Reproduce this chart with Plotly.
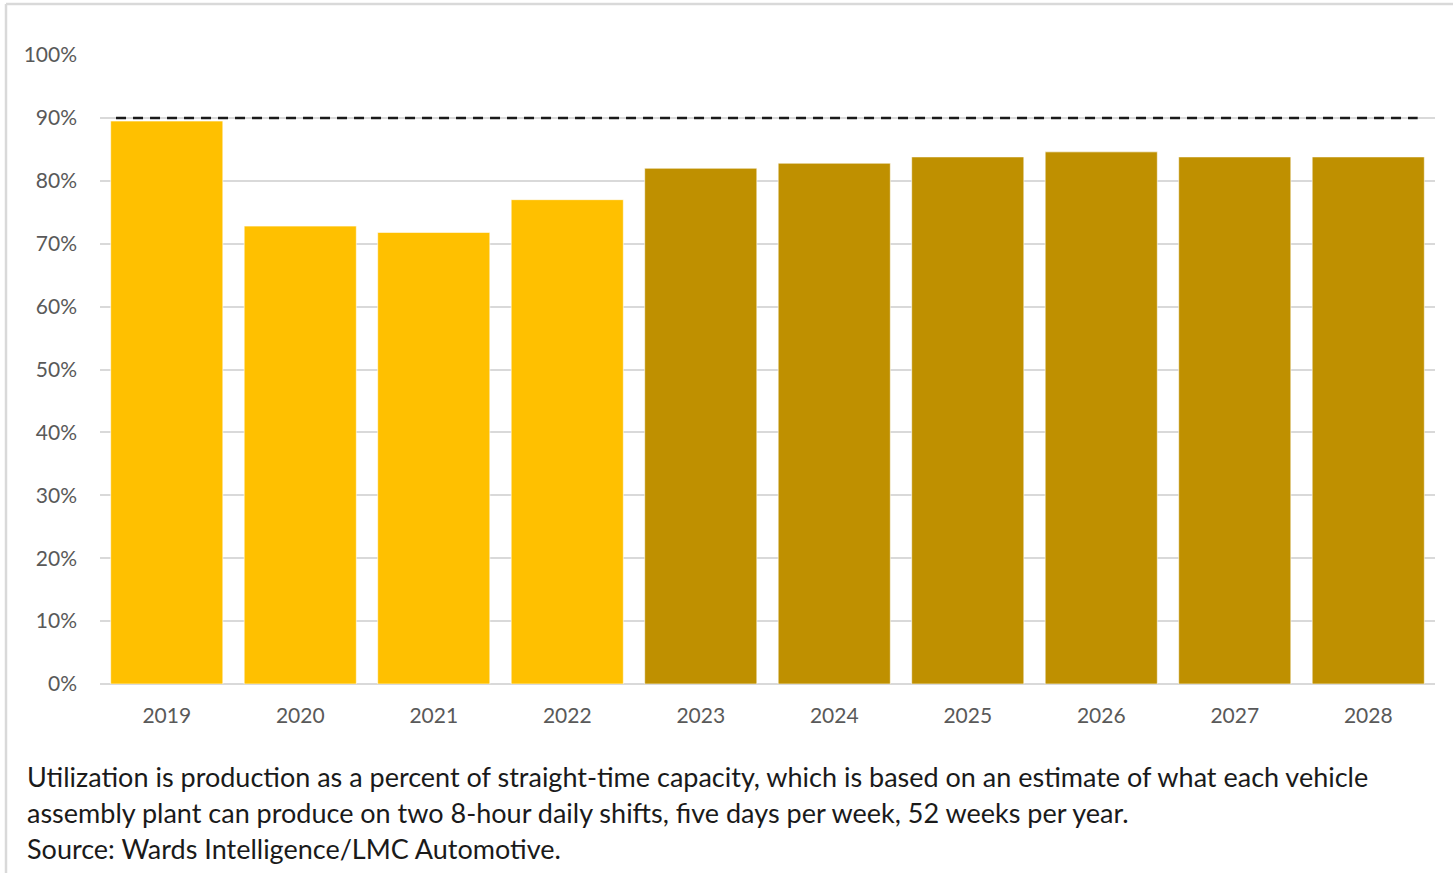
import plotly.graph_objects as go

# Vehicle assembly plant capacity utilization, actual and forecast
years = ["2019", "2020", "2021", "2022", "2023", "2024", "2025", "2026", "2027", "2028"]
utilization = [89.5, 72.8, 71.8, 77.0, 82.0, 82.8, 83.8, 84.6, 83.8, 83.8]
is_forecast = [False, False, False, False, True, True, True, True, True, True]
threshold = 90
y_ticks = [0, 10, 20, 30, 40, 50, 60, 70, 80, 90, 100]
y_tick_labels = [f"{v}%" for v in y_ticks]

caption_lines = [
    "Utilization is production as a percent of straight-time capacity, which is based on an estimate of what each vehicle",
    "assembly plant can produce on two 8-hour daily shifts, five days per week, 52 weeks per year.",
    "Source: Wards Intelligence/LMC Automotive.",
]

W, H = 1453, 873
L, R, T, B = 100, 18, 55, 189
FONT = "Lato"

actual_color = "#FFC000"
forecast_color = "#BF9000"
colors = [forecast_color if f else actual_color for f in is_forecast]

fig = go.Figure()
fig.add_trace(go.Bar(
    x=list(range(len(years))),
    y=utilization,
    marker=dict(color=colors, line=dict(color="rgba(255,255,255,0.6)", width=1)),
    width=0.84,
    hoverinfo="skip",
))

# 90% reference line
fig.add_shape(type="line", xref="x", yref="y",
              x0=-0.38, x1=9.37, y0=threshold, y1=threshold,
              line=dict(color="#1a1a1a", width=2.5, dash="10px,7px"))


def px_x(p):
    return (p - L) / (W - L - R)


def px_y(p):
    return (H - B - p) / (H - T - B)


# outer frame (top and left edges)
fig.add_shape(type="line", xref="paper", yref="paper",
              x0=px_x(6), x1=px_x(W), y0=px_y(4), y1=px_y(4),
              line=dict(color="#D9D9D9", width=2.5))
fig.add_shape(type="line", xref="paper", yref="paper",
              x0=px_x(6), x1=px_x(6), y0=px_y(4), y1=px_y(H),
              line=dict(color="#D9D9D9", width=2.5))

for i, line in enumerate(caption_lines):
    fig.add_annotation(
        xref="paper", yref="paper", x=px_x(25), y=px_y(776 + 36 * i),
        xanchor="left", yanchor="middle", text=line, showarrow=False,
        font=dict(family=FONT, size=27, color="#1a1a1a"),
    )

fig.update_layout(
    width=W, height=H,
    margin=dict(l=L, r=R, t=T, b=B, pad=0),
    paper_bgcolor="white", plot_bgcolor="white",
    showlegend=False,
    bargap=0.16,
    font=dict(family=FONT, color="#595959"),
)
fig.update_xaxes(
    tickmode="array", tickvals=list(range(len(years))), ticktext=years,
    range=[-0.5, len(years) - 0.5],
    showgrid=False, zeroline=False, showline=False, ticks="",
    tickfont=dict(family=FONT, size=21, color="#595959"),
    ticklabelstandoff=17,
)
fig.update_yaxes(
    range=[0, 100], tickmode="array", tickvals=y_ticks, ticktext=y_tick_labels,
    showgrid=True, gridcolor="#D9D9D9", gridwidth=2,
    zeroline=True, zerolinecolor="#D9D9D9", zerolinewidth=2,
    showline=False, ticks="",
    tickfont=dict(family=FONT, size=21, color="#595959"),
    ticklabelstandoff=22,
)

fig.write_html("out.html")
